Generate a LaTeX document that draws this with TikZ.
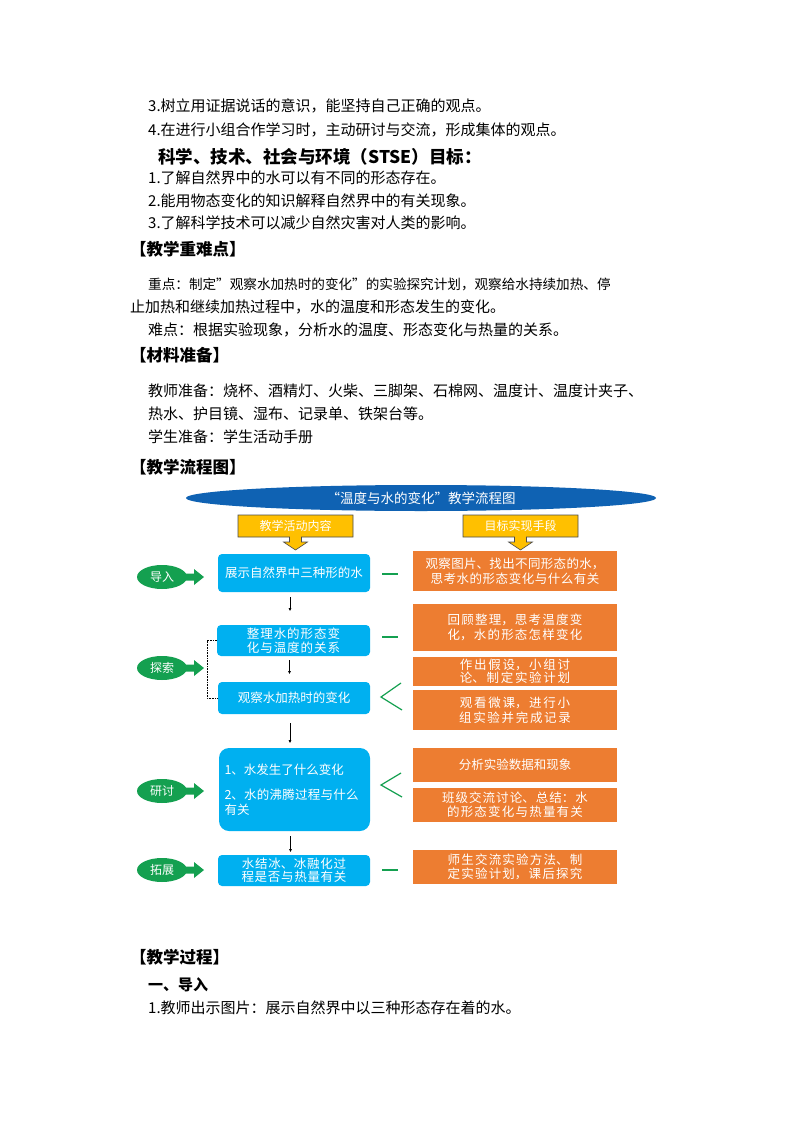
\documentclass[tikz,border=0pt]{standalone}
\usepackage{fontspec}
\setmainfont{Noto Sans CJK SC}
\XeTeXlinebreaklocale "zh"
\XeTeXlinebreakskip=0pt plus 1pt
\usetikzlibrary{shapes.geometric,arrows.meta}
\definecolor{ell}{HTML}{0F62B3}
\definecolor{yel}{HTML}{FFC000}
\definecolor{cy}{HTML}{00B0F0}
\definecolor{org}{HTML}{ED7D31}
\definecolor{grn}{HTML}{14A050}
\tikzset{
 txt/.style={anchor=west,inner sep=0pt,font=\fontsize{15}{17}\selectfont},
 hd/.style={txt,font=\fontsize{16.5}{18}\selectfont\bfseries},
 bb/.style={fill=cy,rounded corners=4pt,text=white,align=center,font=\fontsize{12.5}{15}\selectfont,inner sep=2pt},
 ob/.style={fill=org,text=white,align=center,font=\fontsize{12.5}{15}\selectfont,inner sep=2pt,minimum width=204pt},
 gl/.style={draw=grn,line width=1.2pt},
 ge/.style={ellipse,fill=grn,text=white,minimum width=50pt,minimum height=24pt,inner sep=0pt,font=\fontsize{12}{14}\selectfont},
 sa/.style={-{Latex[length=3pt,width=3pt]},line width=0.6pt}
}
\begin{document}
\begin{tikzpicture}[x=1pt,y=-1pt]
\useasboundingbox (0,0) rectangle (794,1123);
\fill[white] (0,0) rectangle (794,1123);
\node[txt] (t1) at (148,106) {3.树立用证据说话的意识，能坚持自己正确的观点。};
\node[txt] (t2) at (148,130) {4.在进行小组合作学习时，主动研讨与交流，形成集体的观点。};
\node[hd,font=\fontsize{17.5}{19}\selectfont\bfseries] (t3) at (158,157) {科学、技术、社会与环境（STSE）目标：};
\node[txt] (t4) at (148,178) {1.了解自然界中的水可以有不同的形态存在。};
\node[txt] (t5) at (148,201) {2.能用物态变化的知识解释自然界中的有关现象。};
\node[txt] (t6) at (148,223) {3.了解科学技术可以减少自然灾害对人类的影响。};
\node[hd] (h1) at (130,249) {【教学重难点】};
\node[txt,font=\fontsize{13.6}{15}\selectfont] (t7) at (148,284) {重点：制定"观察水加热时的变化"的实验探究计划，观察给水持续加热、停};
\node[txt] (t8) at (130,307) {止加热和继续加热过程中，水的温度和形态发生的变化。};
\node[txt] (t9) at (148,330) {难点：根据实验现象，分析水的温度、形态变化与热量的关系。};
\node[hd] (h2) at (130,355) {【材料准备】};
\node[txt] (t10) at (148,391) {教师准备：烧杯、酒精灯、火柴、三脚架、石棉网、温度计、温度计夹子、};
\node[txt] (t11) at (148,414) {热水、护目镜、湿布、记录单、铁架台等。};
\node[txt] (t12) at (148,437) {学生准备：学生活动手册};
\node[hd] (h3) at (130,467) {【教学流程图】};
\node[hd] (h4) at (130,957) {【教学过程】};
\node[hd,font=\fontsize{15}{17}\selectfont\bfseries] (h5) at (148,985) {一、导入};
\node[txt] (t13) at (148,1008) {1.教师出示图片：展示自然界中以三种形态存在着的水。};
% title ellipse
\node[ellipse,fill=ell,minimum width=470pt,minimum height=26pt,inner sep=0pt,text=white,font=\fontsize{13.5}{15}\selectfont] (ti) at (421,498) {“温度与水的变化”教学流程图};
% yellow callouts
\foreach \cx/\lab/\nm in {295.5/教学活动内容/ya,520.5/目标实现手段/yb}{
 \draw[fill=yel,draw=black!70,line width=0.6pt] (\cx-57.5,515) -- (\cx+57.5,515) -- (\cx+57.5,537) -- (\cx+6,537) -- (\cx+6,542) -- (\cx+12,542) -- (\cx,550) -- (\cx-12,542) -- (\cx-6,542) -- (\cx-6,537) -- (\cx-57.5,537) -- cycle;
 \node[text=white,font=\fontsize{12}{14}\selectfont] (\nm) at (\cx,526) {\lab};
}
% blue boxes
\node[bb,minimum width=152pt,minimum height=38pt,text width=140pt] (b1) at (294,573) {展示自然界中三种形的水};
\node[bb,minimum width=153pt,minimum height=31pt,text width=140pt,font=\fontsize{12.5}{13.5}\selectfont] (b2) at (293.5,640.5) {整理水的形态变化与温度的关系};
\node[bb,minimum width=152pt,minimum height=32pt] (b3) at (294,698) {观察水加热时的变化};
\node[bb,minimum width=151pt,minimum height=83pt,text width=140pt,align=left,rounded corners=10pt] (b4) at (294.5,789.5) {1、水发生了什么变化\\[10pt]2、水的沸腾过程与什么有关};
\node[bb,minimum width=152pt,minimum height=31pt,text width=140pt,font=\fontsize{12.5}{13.5}\selectfont] (b5) at (294,870.5) {水结冰、冰融化过程是否与热量有关};
\draw[sa] (b1.south) ++(-4,5) -- ++(0,14);
\draw[sa] (b2.south) ++(-4,4) -- ++(0,14);
\draw[sa] (b3.south) ++(-4,9) -- ++(0,20);
\draw[sa] (b4.south) ++(-4,5) -- ++(0,16);
% orange boxes
\node[ob,minimum height=40pt,text width=196pt] (o1) at (515,571) {观察图片、找出不同形态的水，思考水的形态变化与什么有关};
\node[ob,minimum height=47pt,text width=196pt] (o2) at (515,627.5) {回顾整理，思考温度变化，水的形态怎样变化};
\node[ob,minimum height=29pt,text width=196pt,font=\fontsize{12.5}{13}\selectfont] (o3) at (515,671.5) {作出假设，小组讨论、制定实验计划};
\node[ob,minimum height=40pt,text width=196pt] (o4) at (515,710) {观看微课，进行小组实验并完成记录};
\node[ob,minimum height=34pt] (o5) at (515,765) {分析实验数据和现象};
\node[ob,minimum height=34pt,text width=196pt,font=\fontsize{12.5}{14}\selectfont] (o6) at (515,805) {班级交流讨论、总结：水的形态变化与热量有关};
\node[ob,minimum height=34pt,text width=196pt,font=\fontsize{12.5}{14}\selectfont] (o7) at (515,867) {师生交流实验方法、制定实验计划，课后探究};
% green connectors
\draw[gl] (382,574) -- (398,574);
\draw[gl] (382,637) -- (398,637);
\draw[gl] (382,870) -- (398,870);
\draw[gl] (401,683) -- (381,697) -- (402,710);
\draw[gl] (401,773) -- (381,785) -- (402,797);
% green ellipses
\foreach \cy/\lab/\nm in {577/导入/g1,668/探索/g2,791/研讨/g3,870/拓展/g4}{
 \node[ge] (\nm) at (162,\cy) {\lab};
 \fill[grn] (184,\cy-3.5) -- (194,\cy-3.5) -- (194,\cy-8) -- (204,\cy) -- (194,\cy+8) -- (194,\cy+3.5) -- (184,\cy+3.5) -- cycle;
}
% bracket
\draw[densely dotted,line width=0.6pt] (b2.west) -- (207,640.5) -- (207,698) -- (b3.west);
\end{tikzpicture}
\end{document}
